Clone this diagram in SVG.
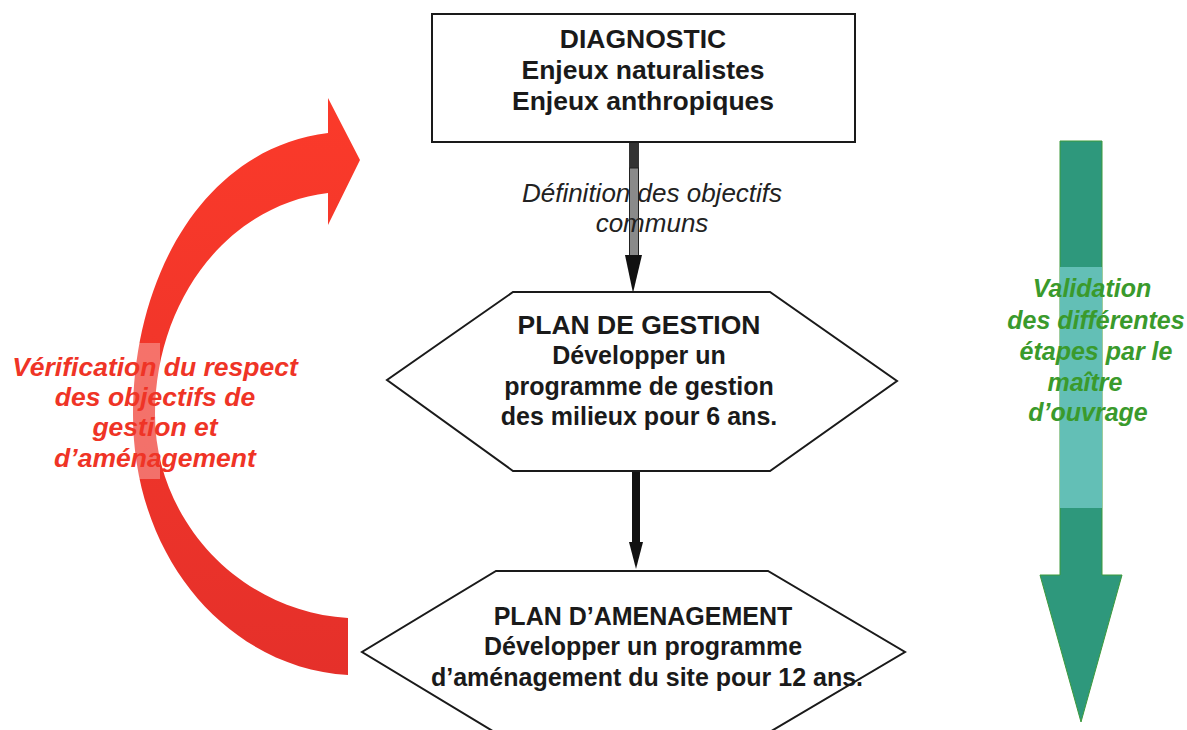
<svg xmlns="http://www.w3.org/2000/svg" width="1187" height="730" viewBox="0 0 1187 730">
  <style>
    .box { fill: #ffffff; stroke: #1a1a1a; stroke-width: 2; }
    .t { font-family: "Liberation Sans", Arial, sans-serif; font-weight: bold; font-size: 25px; fill: #1a1a1a; text-anchor: middle; }
    .big { font-size: 26.5px; }
    .it { font-family: "Liberation Sans", Arial, sans-serif; font-style: italic; font-size: 26px; fill: #222222; text-anchor: middle; }
    .red { font-family: "Liberation Sans", Arial, sans-serif; font-style: italic; font-weight: bold; font-size: 26.5px; fill: #ef3426; text-anchor: middle; }
    .green { font-family: "Liberation Sans", Arial, sans-serif; font-style: italic; font-weight: bold; font-size: 25px; fill: #3a9a2c; text-anchor: middle; }
  </style>
  <defs>
    <linearGradient id="redg" x1="0" y1="0" x2="0" y2="1">
      <stop offset="0" stop-color="#fb3a2a"/>
      <stop offset="1" stop-color="#e5302a"/>
    </linearGradient>
  </defs>
  <rect width="1187" height="730" fill="#ffffff"/>

  <g id="verification">
    <path d="M348,675 C230,668 133,560 133,415 C133,275 205,148 328,133 L328,98 L360,160 L328,225 L328,193 C228,205 155,300 155,415 C155,520 240,612 348,618 Z" fill="url(#redg)"/>
    <rect x="128" y="343" width="32" height="136" fill="#ffffff" fill-opacity="0.3"/>
    <text class="red" x="155" y="376">Vérification du respect</text>
    <text class="red" x="155" y="406">des objectifs de</text>
    <text class="red" x="155" y="436">gestion et</text>
    <text class="red" x="155" y="467">d’aménagement</text>
  </g>

  <g id="validation">
    <path d="M1060,141 H1102 V575 H1122 L1081,722 L1040,575 H1060 Z" fill="#2e987c" stroke="#3d9a3c" stroke-width="1"/>
    <rect x="1060" y="267" width="42" height="241" fill="#63bfb6"/>
    <text class="green" x="1092" y="297">Validation</text>
    <text class="green" x="1096" y="329">des différentes</text>
    <text class="green" x="1096" y="360">étapes par le</text>
    <text class="green" x="1085" y="391">maître</text>
    <text class="green" x="1088" y="421">d’ouvrage</text>
  </g>

  <g id="connectors">
    <rect x="629" y="142" width="10" height="26" fill="#333333"/>
    <rect x="629.5" y="168" width="9" height="88" fill="#8a8a8a" stroke="#222222" stroke-width="1"/>
    <path d="M625,255 L642,255 L633,293 Z" fill="#111111"/>
    <rect x="632" y="471" width="8" height="72" fill="#111111"/>
    <path d="M629,542 L643,542 L636,569 Z" fill="#111111"/>
    <text class="it" x="652" y="202">Définition des objectifs</text>
    <text class="it" x="652" y="232">communs</text>
  </g>

  <g id="diagnostic">
    <rect class="box" x="432" y="14" width="423" height="128"/>
    <text class="t big" x="643" y="48">DIAGNOSTIC</text>
    <text class="t big" x="643" y="79">Enjeux naturalistes</text>
    <text class="t big" x="643" y="110">Enjeux anthropiques</text>
  </g>

  <g id="plan-gestion">
    <polygon class="box" points="513,292 770,292 897,381 770,471 513,471 387,380"/>
    <text class="t big" x="639" y="334">PLAN DE GESTION</text>
    <text class="t" x="639" y="364">Développer un</text>
    <text class="t" x="639" y="395">programme de gestion</text>
    <text class="t" x="639" y="425">des milieux pour 6 ans.</text>
  </g>

  <g id="plan-amenagement">
    <polygon class="box" points="496,571 768,571 905,652 768,733 496,733 362,652"/>
    <text class="t" x="643" y="625">PLAN D’AMENAGEMENT</text>
    <text class="t" x="643" y="655">Développer un programme</text>
    <text class="t" x="647" y="686">d’aménagement du site pour 12 ans.</text>
  </g>
</svg>
